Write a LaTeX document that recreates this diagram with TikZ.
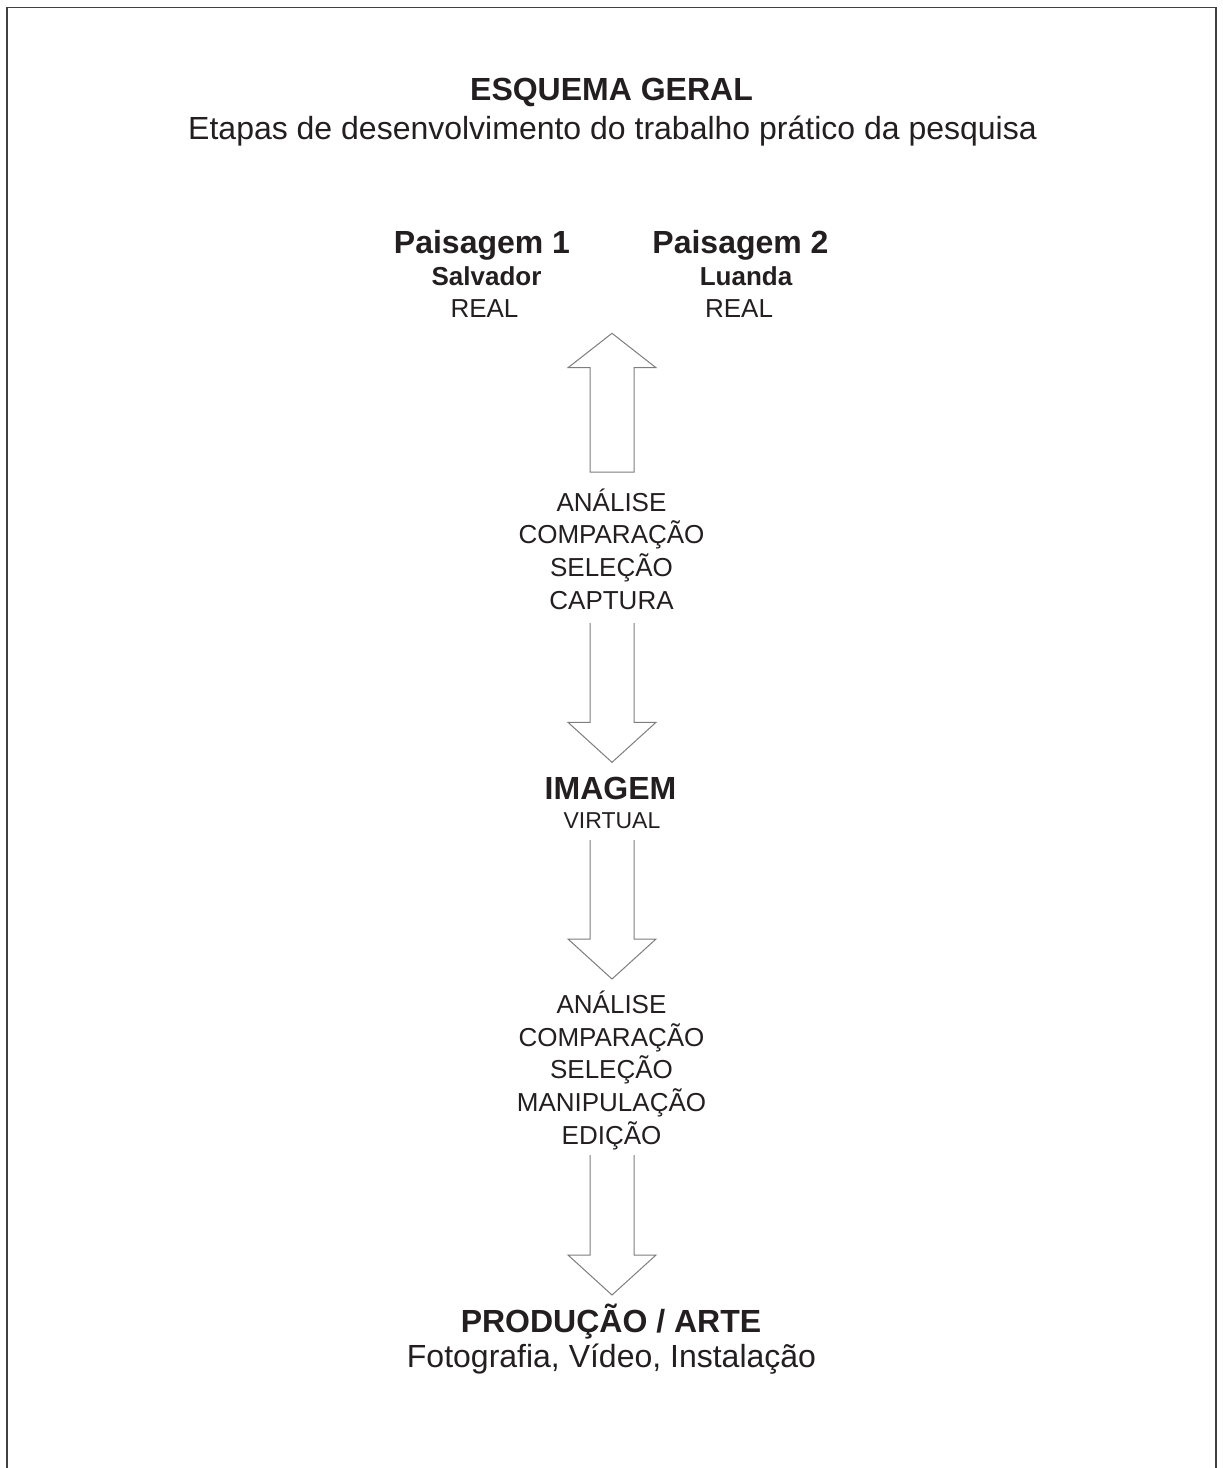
\documentclass[tikz,border=0pt]{standalone}
\usepackage{fontspec}
\setmainfont{Liberation Sans}
\usetikzlibrary{calc}
\definecolor{tinta}{RGB}{35,31,32}
\definecolor{linha}{RGB}{125,125,125}
\tikzset{
  titulo/.style={font=\fontsize{16}{19}\selectfont\bfseries, text=tinta, anchor=base, inner sep=0pt},
  texto/.style={font=\fontsize{16}{19}\selectfont, text=tinta, anchor=base, inner sep=0pt},
  local/.style={font=\fontsize{13}{15}\selectfont\bfseries, text=tinta, anchor=base, inner sep=0pt},
  etapa/.style={font=\fontsize{13}{16.3}\selectfont, text=tinta, anchor=base, inner sep=0pt, align=center},
  seta/.style={draw=linha, line width=0.5pt, line join=miter},
  moldura/.style={draw=black!75, line width=0.8pt}
}
% seta em bloco: [fecho]{de}{para}{comprimento da ponta}
\newcommand{\setabloco}[4][]{%
  \coordinate (cab) at ($(#3)!#4!(#2)$);
  \draw[seta] ($(#2)!11pt!90:(#3)$) -- ($(cab)!11pt!-90:(#2)$) -- ($(cab)!22pt!-90:(#2)$) -- (#3)
    -- ($(cab)!22pt!90:(#2)$) -- ($(cab)!11pt!90:(#2)$) -- ($(#2)!11pt!-90:(#3)$) #1;
}
\begin{document}
\begin{tikzpicture}[x=0.5pt, y=-0.5pt]
    \useasboundingbox (0,0) rectangle (1222,1468);
    % Moldura (aberta em baixo)
    \draw[moldura] (7,1470) -- (7,7.5) -- (1216,7.5) -- (1216,1470);
    % Titulos
    \node[titulo] (esquema) at (611.5,100) {ESQUEMA GERAL};
    \node[texto] (etapas) at (612.5,139) {Etapas de desenvolvimento do trabalho prático da pesquisa};
    % Paisagens
    \node[titulo] (pais1) at (482,253) {Paisagem 1};
    \node[local] (salvador) at (486.5,285) {Salvador};
    \node[etapa] (real1) at (484.5,317) {REAL};
    \node[titulo] (pais2) at (740.5,253) {Paisagem 2};
    \node[local] (luanda) at (746,285) {Luanda};
    \node[etapa] (real2) at (739,317) {REAL};
    % Etapas (base = ultima linha)
    \node[etapa] (etapa1) at (611.5,609) {ANÁLISE\\COMPARAÇÃO\\SELEÇÃO\\CAPTURA};
    \node[titulo] (imagem) at (610.5,799) {IMAGEM};
    \node[etapa, font=\fontsize{11.5}{14}\selectfont] (virtual) at (612,828) {VIRTUAL};
    \node[etapa] (etapa2) at (611.5,1144) {ANÁLISE\\COMPARAÇÃO\\SELEÇÃO\\MANIPULAÇÃO\\EDIÇÃO};
    \node[titulo] (producao) at (611,1332) {PRODUÇÃO / ARTE};
    \node[texto] (arte) at (611.5,1367) {Fotografia, Vídeo, Instalação};
    % Setas
    \coordinate (s1a) at (612,472);  \coordinate (s1b) at (612,333.3);
    \coordinate (s2a) at (612,623);  \coordinate (s2b) at (612,762.3);
    \coordinate (s3a) at (612,840);  \coordinate (s3b) at (612,979);
    \coordinate (s4a) at (612,1155); \coordinate (s4b) at (612,1295);
    \setabloco[-- cycle]{s1a}{s1b}{17.2pt}
    \setabloco{s2a}{s2b}{20pt}
    \setabloco{s3a}{s3b}{20pt}
    \setabloco{s4a}{s4b}{20pt}
\end{tikzpicture}
\end{document}
